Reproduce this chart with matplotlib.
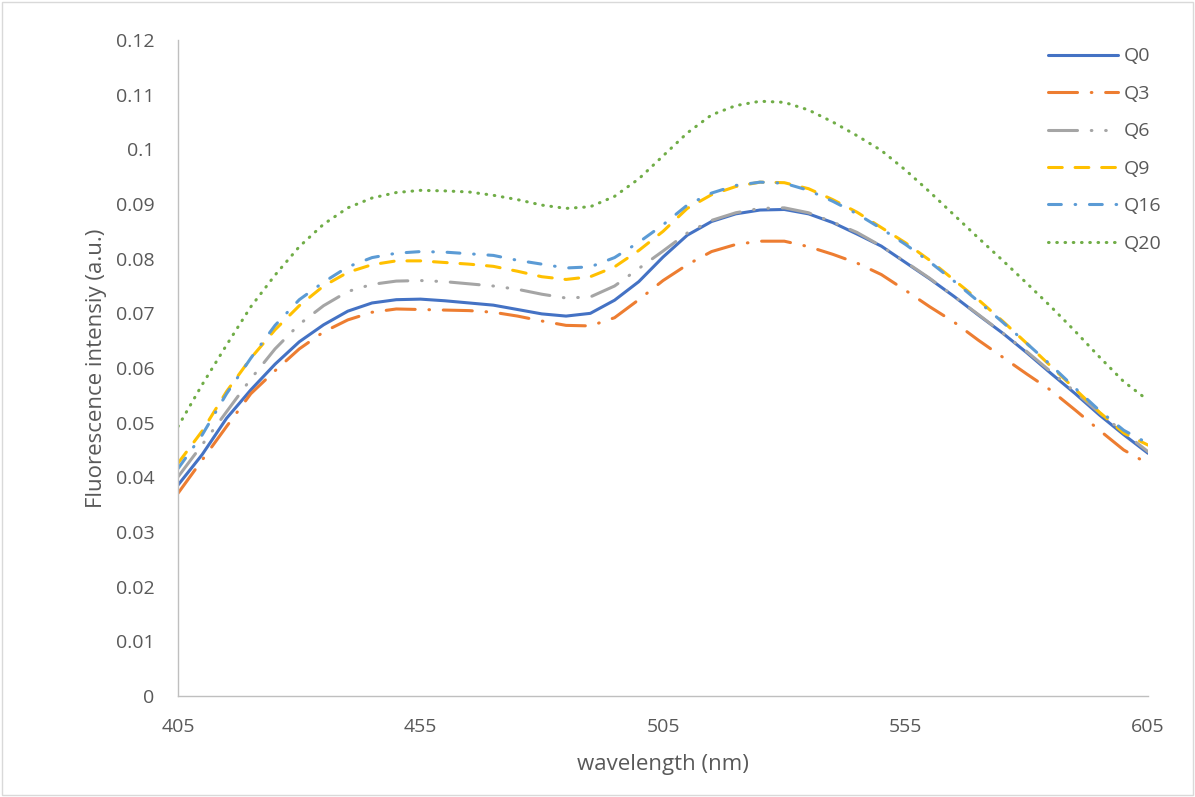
import numpy as np
import matplotlib
matplotlib.use("Agg")
import matplotlib.pyplot as plt

wavelength = np.arange(405, 606, 5)

q0 = [0.0386, 0.0442, 0.0508, 0.0560, 0.0607, 0.0648, 0.0679, 0.0704, 0.0719, 0.0725,
      0.0726, 0.0723, 0.0719, 0.0715, 0.0707, 0.0699, 0.0695, 0.0700, 0.0724, 0.0758,
      0.0803, 0.0843, 0.0868, 0.0882, 0.0889, 0.0890, 0.0882, 0.0866, 0.0845, 0.0823,
      0.0793, 0.0763, 0.0731, 0.0697, 0.0664, 0.0628, 0.0590, 0.0553, 0.0514, 0.0478, 0.0444]
q3 = [0.0371, 0.0432, 0.0493, 0.0553, 0.0595, 0.0635, 0.0666, 0.0688, 0.0702, 0.0708,
      0.0707, 0.0706, 0.0705, 0.0702, 0.0695, 0.0686, 0.0678, 0.0677, 0.0692, 0.0725,
      0.0760, 0.0789, 0.0813, 0.0826, 0.0832, 0.0832, 0.0822, 0.0808, 0.0792, 0.0771,
      0.0742, 0.0712, 0.0684, 0.0651, 0.0620, 0.0589, 0.0559, 0.0523, 0.0486, 0.0450, 0.0425]
q6 = [0.0401, 0.0460, 0.0520, 0.0580, 0.0635, 0.0680, 0.0714, 0.0740, 0.0753, 0.0759,
      0.0760, 0.0758, 0.0754, 0.0750, 0.0744, 0.0735, 0.0728, 0.0730, 0.0750, 0.0782,
      0.0814, 0.0847, 0.0870, 0.0884, 0.0892, 0.0893, 0.0884, 0.0867, 0.0848, 0.0823,
      0.0794, 0.0764, 0.0731, 0.0698, 0.0664, 0.0630, 0.0593, 0.0556, 0.0518, 0.0482, 0.0447]
q9 = [0.0426, 0.0485, 0.0557, 0.0618, 0.0670, 0.0714, 0.0750, 0.0775, 0.0789, 0.0796,
      0.0796, 0.0793, 0.0790, 0.0786, 0.0777, 0.0767, 0.0762, 0.0767, 0.0785, 0.0815,
      0.0850, 0.0892, 0.0917, 0.0932, 0.0940, 0.0939, 0.0928, 0.0908, 0.0885, 0.0857,
      0.0829, 0.0797, 0.0761, 0.0725, 0.0686, 0.0645, 0.0603, 0.0561, 0.0519, 0.0481, 0.0459]
q16 = [0.0416, 0.0478, 0.0553, 0.0618, 0.0678, 0.0725, 0.0757, 0.0785, 0.0802, 0.0810,
       0.0813, 0.0812, 0.0809, 0.0806, 0.0797, 0.0790, 0.0783, 0.0785, 0.0802, 0.0830,
       0.0862, 0.0898, 0.0920, 0.0934, 0.0940, 0.0938, 0.0925, 0.0905, 0.0882, 0.0855,
       0.0826, 0.0794, 0.0759, 0.0722, 0.0684, 0.0645, 0.0605, 0.0563, 0.0522, 0.0486, 0.0462]
q20 = [0.0493, 0.0570, 0.0642, 0.0712, 0.0770, 0.0822, 0.0863, 0.0893, 0.0911, 0.0921,
       0.0925, 0.0924, 0.0922, 0.0916, 0.0908, 0.0898, 0.0892, 0.0895, 0.0914, 0.0946,
       0.0988, 0.1030, 0.1063, 0.1080, 0.1088, 0.1086, 0.1072, 0.1050, 0.1025, 0.0998,
       0.0962, 0.0922, 0.0880, 0.0838, 0.0797, 0.0755, 0.0712, 0.0667, 0.0620, 0.0575, 0.0541]

labels = ["Q0", "Q3", "Q6", "Q9", "Q16", "Q20"]
series = [q0, q3, q6, q9, q16, q20]
colors = ["#4472C4", "#ED7D31", "#A5A5A5", "#FFC000", "#5B9BD5", "#70AD47"]
# excel-ish dash patterns (units of line width)
styles = ["-",
          (0, (9.5, 4.5, 0.2, 4.5)),
          (0, (9.5, 4.5, 0.2, 4.5, 0.2, 4.5)),
          (0, (4.5, 4.2)),
          (0, (4.2, 4.5, 0.2, 4.5)),
          (0, (0.2, 2.5))]

plt.rcParams['font.family'] = ['Open Sans', 'DejaVu Sans']
txt = "#595959"

fig = plt.figure(figsize=(11.95, 7.97), dpi=100)
ax = fig.add_axes([0.149, 0.1267, 0.8117, 0.8231])

for y, lab, c, ls in zip(series, labels, colors, styles):
    ax.plot(wavelength, y, color=c, linestyle=ls, linewidth=2.2, label=lab,
            dash_capstyle='round', solid_capstyle='round')

ax.set_xlim(405, 605)
ax.set_ylim(0, 0.12)
ax.set_xticks([405, 455, 505, 555, 605])
ax.set_yticks(np.arange(0, 0.121, 0.01))
ax.set_yticklabels(["0"] + ["%g" % round(v, 2) for v in np.arange(0.01, 0.121, 0.01)])
ax.tick_params(length=0, labelsize=14, colors=txt)
ax.tick_params(axis='y', pad=17)
ax.tick_params(axis='x', pad=16)
for s in ["top", "right"]:
    ax.spines[s].set_visible(False)
for s in ["left", "bottom"]:
    ax.spines[s].set_color("#BFBFBF")
    ax.spines[s].set_linewidth(1)

ax.set_xlabel("wavelength (nm)", fontsize=16, color=txt, labelpad=13)
ax.set_ylabel("Fluorescence intensiy (a.u.)", fontsize=16, color=txt, labelpad=6)

leg = ax.legend(loc="upper left", bbox_to_anchor=(1030 / 1195, 1 - 30 / 797),
                bbox_transform=fig.transFigure, frameon=False,
                handlelength=3.6, fontsize=14, labelspacing=1.0, handletextpad=0.3)
for t in leg.get_texts():
    t.set_color(txt)

fig.patches.append(plt.Rectangle((0.002, 0.002), 0.996, 0.996, transform=fig.transFigure,
                                 fill=False, edgecolor="#D9D9D9", linewidth=1))

fig.savefig("out.png", dpi=100)
